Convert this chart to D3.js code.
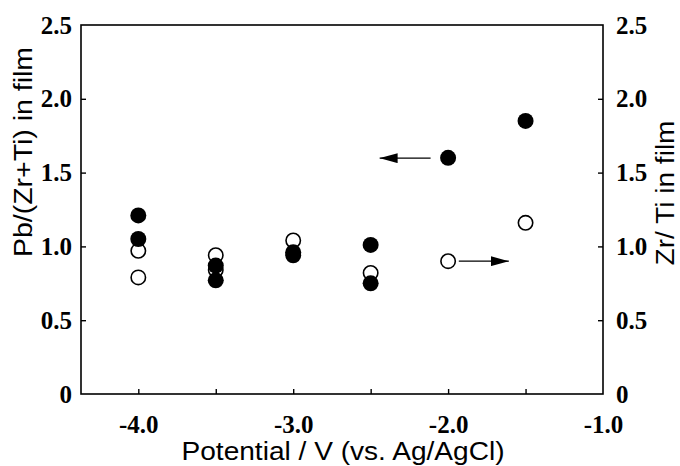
<!DOCTYPE html>
<html>
<head>
<meta charset="utf-8">
<script src="https://cdn.jsdelivr.net/npm/d3@7"></script>
<style>
  html, body { margin: 0; padding: 0; background: #fff; }
  svg { display: block; }
</style>
</head>
<body>
<svg id="chart" width="680" height="466"></svg>
<script>
// ---- data ----
const pbPotential = [-4.0, -4.0, -3.5, -3.5, -3.0, -3.0, -2.5, -2.5, -2.0, -1.5];
const pbRatio     = [1.21, 1.05, 0.87, 0.77, 0.96, 0.94, 1.01, 0.75, 1.60, 1.85];
const zrPotential = [-4.0, -4.0, -3.5, -3.5, -3.0, -2.5, -2.0, -1.5];
const zrTiRatio   = [0.97, 0.79, 0.94, 0.84, 1.04, 0.82, 0.90, 1.16];
const xTickValues = [-4.0, -3.5, -3.0, -2.5, -2.0, -1.5, -1.0];
const xTickLabels = ["-4.0", "", "-3.0", "", "-2.0", "", "-1.0"];
const yTickValues = [0, 0.5, 1.0, 1.5, 2.0, 2.5];
const yTickLabels = ["0", "0.5", "1.0", "1.5", "2.0", "2.5"];
// arrows: [x1, y1, x2 (tip), y2] in data units
const arrowLeft  = [-2.113, 1.598, -2.442, 1.598];
const arrowRight = [-1.931, 0.900, -1.608, 0.900];

const svg = d3.select("#chart");
const L = 81, R = 603, T = 25, B = 394;

const x = d3.scaleLinear().domain([-4.37, -1.0]).range([L, R]);
const yL = d3.scaleLinear().domain([0, 2.5]).range([B, T]);
const yR = d3.scaleLinear().domain([0, 2.5]).range([B, T]);

const tickFont = "'Liberation Serif', 'Times New Roman', serif";
const titleFont = "'Liberation Sans', Arial, sans-serif";

// frame
svg.append("rect").attr("x", L).attr("y", T).attr("width", R - L).attr("height", B - T)
  .attr("fill", "none").attr("stroke", "#000").attr("stroke-width", 1.6);

// bottom axis
const xAxis = d3.axisBottom(x).tickValues(xTickValues)
  .tickSizeInner(-5).tickSizeOuter(0).tickPadding(21)
  .tickFormat((d, i) => xTickLabels[i]);
const gx = svg.append("g").attr("transform", `translate(0,${B})`).call(xAxis);
gx.select(".domain").remove();

// left axis
const yAxisL = d3.axisLeft(yL).tickValues(yTickValues)
  .tickSizeInner(-5).tickSizeOuter(0).tickPadding(9)
  .tickFormat((d, i) => yTickLabels[i]);
const gyl = svg.append("g").attr("transform", `translate(${L},0)`).call(yAxisL);
gyl.select(".domain").remove();

// right axis
const yAxisR = d3.axisRight(yR).tickValues(yTickValues)
  .tickSizeInner(-5).tickSizeOuter(0).tickPadding(13)
  .tickFormat((d, i) => yTickLabels[i]);
const gyr = svg.append("g").attr("transform", `translate(${R},0)`).call(yAxisR);
gyr.select(".domain").remove();

[gx, gyl, gyr].forEach(g => {
  g.selectAll(".tick line").attr("stroke", "#000").attr("stroke-width", 1.4);
  g.selectAll(".tick text").attr("font-family", tickFont).attr("font-weight", "bold")
    .attr("font-size", 25).attr("fill", "#000");
});
gx.selectAll(".tick text").attr("dy", "0.71em");
gyl.selectAll(".tick line").filter(d => d === 0 || d === 2.5).remove();
gyr.selectAll(".tick line").filter(d => d === 0 || d === 2.5).remove();
gx.selectAll(".tick line").filter(d => d === -1.0).remove();

// points: open first, filled on top
const r = 8;
svg.append("g").selectAll("circle").data(zrPotential.map((p, i) => [p, zrTiRatio[i]]))
  .join("circle")
  .attr("cx", d => x(d[0])).attr("cy", d => yR(d[1])).attr("r", r - 0.8)
  .attr("fill", "#fff").attr("stroke", "#000").attr("stroke-width", 1.6);
svg.append("g").selectAll("circle").data(pbPotential.map((p, i) => [p, pbRatio[i]]))
  .join("circle")
  .attr("cx", d => x(d[0])).attr("cy", d => yL(d[1])).attr("r", r)
  .attr("fill", "#000");

// arrows
svg.append("defs").append("marker")
  .attr("id", "head").attr("viewBox", "0 0 18 10").attr("refX", 18).attr("refY", 5)
  .attr("markerWidth", 18).attr("markerHeight", 10).attr("markerUnits", "userSpaceOnUse")
  .attr("orient", "auto")
  .append("path").attr("d", "M0,0 L18,5 L0,10 Z").attr("fill", "#000");
[[arrowLeft, yL], [arrowRight, yR]].forEach(([a, ys]) => {
  svg.append("line")
    .attr("x1", x(a[0])).attr("y1", ys(a[1])).attr("x2", x(a[2])).attr("y2", ys(a[3]))
    .attr("stroke", "#000").attr("stroke-width", 1.3).attr("marker-end", "url(#head)");
});

// titles
svg.append("text").attr("x", 343).attr("y", 460).attr("text-anchor", "middle")
  .attr("font-family", titleFont).attr("font-size", 25).attr("fill", "#000")
  .attr("textLength", 323).attr("lengthAdjust", "spacingAndGlyphs")
  .text("Potential / V (vs. Ag/AgCl)");
svg.append("text").attr("transform", "translate(32,152) rotate(-90)").attr("text-anchor", "middle")
  .attr("font-family", titleFont).attr("font-size", 25).attr("fill", "#000")
  .attr("textLength", 210).attr("lengthAdjust", "spacingAndGlyphs")
  .text("Pb/(Zr+Ti) in film");
svg.append("text").attr("transform", "translate(674,193) rotate(-90)").attr("text-anchor", "middle")
  .attr("font-family", titleFont).attr("font-size", 25).attr("fill", "#000")
  .attr("textLength", 145).attr("lengthAdjust", "spacingAndGlyphs")
  .text("Zr/ Ti in film");
</script>
</body>
</html>
